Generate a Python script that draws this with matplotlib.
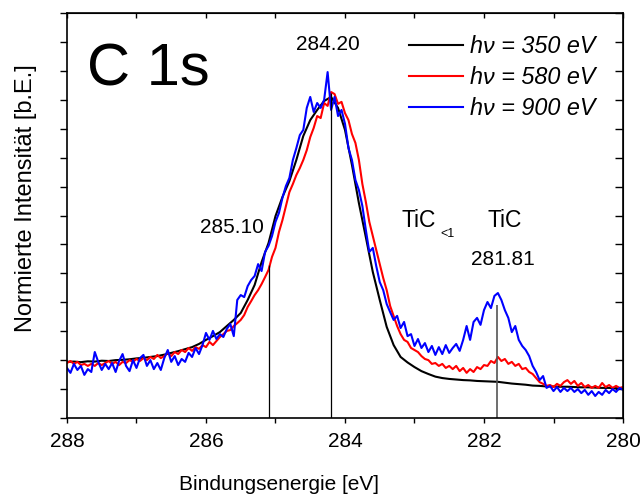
import numpy as np
import matplotlib
matplotlib.use("Agg")
import matplotlib.pyplot as plt
from matplotlib import font_manager as fm

# energies [eV]
energy_fine = np.linspace(288, 280, 161)
energy_coarse = np.linspace(288, 280, 81)

int_350 = [
    1.94, 1.95, 1.93, 1.96, 1.95, 1.98, 1.97, 2.00, 2.01, 2.03,
    2.06, 2.08, 2.11, 2.14, 2.19, 2.25, 2.31, 2.38, 2.45, 2.56,
    2.70, 2.83, 2.97, 3.18, 3.39, 3.63, 4.08, 4.60, 5.39, 6.05,
    6.98, 7.64, 8.19, 8.92, 9.75, 10.30, 10.65, 10.96, 11.10, 10.72,
    9.96, 8.75, 7.43, 6.25, 5.05, 4.08, 3.15, 2.52, 2.11, 1.92,
    1.76, 1.62, 1.52, 1.43, 1.38, 1.35, 1.33, 1.31, 1.30, 1.28,
    1.27, 1.26, 1.25, 1.22, 1.19, 1.17, 1.15, 1.12, 1.11, 1.09,
    1.09, 1.08, 1.08, 1.07, 1.06, 1.06, 1.05, 1.04, 1.04, 1.03,
    1.02,
]

int_580 = [
    1.90, 1.97, 1.87, 1.94, 1.83, 1.87, 1.80, 1.87, 1.80, 1.90,
    1.83, 1.90, 1.97, 1.87, 1.94, 1.83, 1.94, 1.90, 2.00, 1.94,
    2.04, 1.97, 2.07, 2.00, 2.11, 2.04, 2.18, 2.07, 2.14, 2.25,
    2.14, 2.28, 2.21, 2.35, 2.28, 2.42, 2.32, 2.45, 2.39, 2.52,
    2.45, 2.63, 2.52, 2.66, 2.80, 2.90, 3.01, 3.04, 3.18, 3.28,
    3.39, 3.56, 3.84, 4.04, 4.25, 4.42, 4.63, 4.87, 5.12, 5.57,
    5.88, 6.43, 6.84, 7.33, 7.81, 8.09, 8.40, 8.64, 8.92, 9.26,
    9.71, 10.03, 10.44, 10.37, 10.89, 10.79, 11.27, 11.20, 10.86, 10.93,
    10.54, 10.30, 9.82, 9.51, 8.92, 8.09, 7.47, 6.78, 6.29, 5.81,
    5.32, 4.84, 4.42, 3.87, 3.53, 3.18, 2.90, 2.70, 2.63, 2.42,
    2.35, 2.28, 2.14, 2.04, 2.00, 1.87, 1.90, 1.80, 1.87, 1.73,
    1.80, 1.69, 1.80, 1.62, 1.73, 1.56, 1.69, 1.59, 1.76, 1.69,
    1.83, 1.80, 1.97, 1.90, 2.11, 1.97, 2.04, 1.87, 1.94, 1.80,
    1.87, 1.69, 1.73, 1.59, 1.52, 1.38, 1.24, 1.18, 1.11, 1.14,
    1.07, 1.18, 1.11, 1.24, 1.31, 1.18, 1.28, 1.11, 1.21, 1.07,
    1.14, 1.04, 1.11, 1.04, 1.21, 1.07, 1.14, 1.04, 1.11, 1.04,
    1.07,
]

int_900 = [
    1.73, 1.56, 1.87, 1.66, 1.80, 1.49, 1.69, 1.59, 2.28, 1.94,
    1.66, 1.87, 1.69, 1.90, 1.59, 1.97, 2.21, 1.80, 1.62, 2.00,
    1.73, 2.07, 2.18, 1.80, 2.00, 1.69, 1.90, 1.66, 2.07, 2.35,
    1.94, 2.14, 1.83, 2.04, 1.94, 2.25, 2.11, 2.42, 2.21, 2.52,
    2.94, 2.70, 3.01, 2.73, 2.90, 2.80, 3.08, 3.25, 2.83, 4.08,
    4.25, 4.18, 4.56, 4.77, 4.91, 5.32, 5.08, 5.74, 5.95, 6.29,
    6.78, 7.09, 7.61, 8.02, 8.30, 8.92, 9.33, 9.78, 9.96, 10.72,
    11.10, 10.58, 10.89, 10.72, 11.00, 11.96, 10.65, 11.10, 10.44, 10.65,
    10.17, 9.33, 8.92, 8.23, 7.88, 7.33, 6.50, 5.74, 5.88, 5.25,
    4.70, 4.42, 3.94, 3.66, 3.39, 3.53, 3.11, 3.32, 2.83, 2.90,
    2.49, 2.73, 2.42, 2.59, 2.28, 2.49, 2.18, 2.45, 2.21, 2.52,
    2.25, 2.42, 2.56, 2.32, 2.70, 3.18, 2.70, 3.32, 3.46, 3.22,
    3.73, 4.01, 3.80, 4.22, 4.32, 4.08, 3.73, 3.46, 2.97, 3.18,
    2.70, 2.49, 2.35, 2.14, 1.80, 1.59, 1.31, 1.45, 1.04, 1.11,
    0.93, 1.07, 0.90, 1.04, 0.93, 1.04, 0.90, 1.00, 0.86, 0.97,
    0.80, 0.93, 0.76, 0.90, 0.80, 0.97, 0.86, 1.00, 0.90, 1.04,
    0.97,
]

legend_labels = ["h\u03bd = 350 eV", "h\u03bd = 580 eV", "h\u03bd = 900 eV"]

# marked peak positions and where the marker lines stop
peak_pos = [285.10, 284.20, 281.81]
peak_top = [5.29, 11.23, 3.91]
peak_labels = ["285.10", "284.20", "281.81"]

available = {f.name for f in fm.fontManager.ttflist}
narrow = "Liberation Sans Narrow" if "Liberation Sans Narrow" in available else "Liberation Sans"
narrow_size = 16.8 if narrow == "Liberation Sans Narrow" else 15
plt.rcParams["font.family"] = ["Liberation Sans", "DejaVu Sans"]

fig = plt.figure(figsize=(6.44, 4.95), dpi=100)
ax = fig.add_axes([0.104, 0.1556, 0.8634, 0.818])

ax.plot(energy_coarse, int_350, color="black", lw=1.5, label=legend_labels[0])
ax.plot(energy_fine, int_580, color="#ff0000", lw=1.5, label=legend_labels[1])
ax.plot(energy_fine, int_900, color="#0000ff", lw=1.5, label=legend_labels[2])

ax.vlines(peak_pos[:2], 0, peak_top[:2], color="black", lw=0.9)
ax.vlines(peak_pos[2], 0, peak_top[2], color="#555555", lw=1.2)

ax.set_xlim(288, 280)
ax.set_ylim(0, 14)
ax.set_xticks([288, 286, 284, 282, 280])
ax.set_xticks([287, 285, 283, 281], minor=True)
ax.set_yticks(range(0, 15))
ax.set_yticklabels([])
ax.tick_params(axis="x", which="both", direction="out", length=3.8, width=1.0,
               pad=6, labelsize=narrow_size, labelfontfamily=narrow)
ax.tick_params(axis="y", which="both", direction="out", length=5, width=1.0)
for s in ax.spines.values():
    s.set_linewidth(1.2)

top = ax.secondary_xaxis("top")
top.set_xticks([288, 287, 286, 285, 284, 283, 282, 281, 280])
top.set_xticklabels([])
top.tick_params(direction="in", length=3.8, width=1.0)
right = ax.secondary_yaxis("right")
right.set_yticks(range(0, 15))
right.set_yticklabels([])
right.tick_params(direction="in", length=6, width=1.0)

# annotations
ax.text(287.71, 11.51, "C 1s", fontsize=43, ha="left", va="baseline")
ax.text(284.245, 12.72, peak_labels[1], fontsize=15, ha="center", va="baseline")
ax.text(285.63, 6.41, peak_labels[0], fontsize=15, ha="center", va="baseline")
ax.text(281.73, 5.29, peak_labels[2], fontsize=15, ha="center", va="baseline")
ax.text(283.18, 6.61, "TiC", fontsize=16.5, ha="left", va="baseline")
ax.text(282.63, 6.27, "<1", fontsize=9, ha="left", va="baseline")
ax.text(281.70, 6.61, "TiC", fontsize=16.5, ha="center", va="baseline")

ax.legend(loc="upper left", bbox_to_anchor=(0.615, 0.945), frameon=False,
          prop={"style": "italic", "size": 16.8}, handlelength=2.3,
          handletextpad=0.3, labelspacing=0.33, borderpad=0, borderaxespad=0)

fig.text(279 / 644, 1 - 490 / 495, "Bindungsenergie [eV]", fontsize=narrow_size,
         family=narrow, ha="center", va="baseline")
fig.text(32 / 644, 1 - 198 / 495, "Normierte Intensit\u00e4t [b.E.]", fontsize=17,
         rotation=90, rotation_mode="anchor", ha="center", va="baseline")

fig.savefig("out.png", dpi=100)
